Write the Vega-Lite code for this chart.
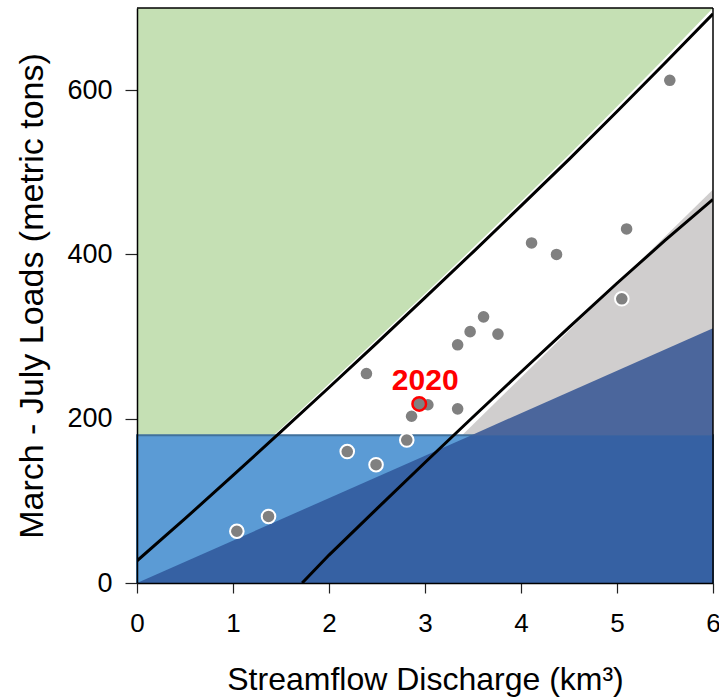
{
  "$schema": "https://vega.github.io/schema/vega-lite/v6.json",
  "width": 576,
  "height": 575,
  "autosize": "none",
  "padding": {"left": 137, "top": 8, "right": 6, "bottom": 116},
  "background": "white",
  "config": {"view": {"stroke": null}, "font": "Liberation Sans"},
  "datasets": {
    "green": [
      {"x": 0, "y": 30}, {"x": 0.5, "y": 82}, {"x": 1, "y": 135}, {"x": 1.5, "y": 188},
      {"x": 2, "y": 242.5}, {"x": 2.5, "y": 297}, {"x": 3, "y": 352}, {"x": 3.5, "y": 408},
      {"x": 4, "y": 464.5}, {"x": 4.5, "y": 521.5}, {"x": 5, "y": 580}, {"x": 5.5, "y": 639.5}, {"x": 6, "y": 700}
    ],
    "gray": [{"x": 3.2, "y": 158.7}, {"x": 6, "y": 479}],
    "rect": [{"x": 0, "x2": 6, "y": 0, "y2": 180}],
    "triLow": [{"x": 0, "y": 0}, {"x": 3.484, "y": 180}, {"x": 6, "y": 180}],
    "triHigh": [{"x": 3.484, "y": 180}, {"x": 6, "y": 310}],
    "upper": [
      {"x": 0, "y": 27}, {"x": 0.5, "y": 78.3}, {"x": 1, "y": 131}, {"x": 1.5, "y": 184.2},
      {"x": 2, "y": 238}, {"x": 2.5, "y": 292.4}, {"x": 3, "y": 347.3}, {"x": 3.5, "y": 402.9},
      {"x": 4, "y": 459.1}, {"x": 4.5, "y": 515.8}, {"x": 5, "y": 574}, {"x": 5.5, "y": 633}, {"x": 6, "y": 693}
    ],
    "lower": [
      {"x": 1.72, "y": 0}, {"x": 2, "y": 34}, {"x": 2.5, "y": 90.6}, {"x": 3, "y": 146.7},
      {"x": 3.5, "y": 202.1}, {"x": 4, "y": 256.9}, {"x": 4.5, "y": 311.2}, {"x": 5, "y": 364.9},
      {"x": 5.5, "y": 417}, {"x": 6, "y": 467}
    ],
    "frame": [{"x": 6, "x2": 6, "y": 0, "y2": 700}, {"x": 0, "x2": 6, "y": 700, "y2": 700}],
    "points": [
      {"x": 1.04, "y": 63, "year": null}, {"x": 1.37, "y": 81, "year": null},
      {"x": 2.19, "y": 160, "year": null}, {"x": 2.49, "y": 144, "year": null},
      {"x": 2.81, "y": 174, "year": null}, {"x": 2.86, "y": 203, "year": null},
      {"x": 3.03, "y": 217, "year": null}, {"x": 2.39, "y": 255, "year": null},
      {"x": 3.34, "y": 212, "year": null}, {"x": 3.34, "y": 290, "year": null},
      {"x": 3.47, "y": 306, "year": null}, {"x": 3.61, "y": 324, "year": null},
      {"x": 3.76, "y": 303, "year": null}, {"x": 4.11, "y": 414, "year": null},
      {"x": 4.37, "y": 400, "year": null}, {"x": 5.05, "y": 346, "year": null},
      {"x": 5.1, "y": 431, "year": null}, {"x": 5.55, "y": 612, "year": null},
      {"x": 2.94, "y": 218, "year": 2020}
    ]
  },
  "encoding": {
    "x": {
      "field": "x", "type": "quantitative",
      "scale": {"domain": [0, 6], "nice": false, "zero": false},
      "axis": {
        "values": [0, 1, 2, 3, 4, 5, 6], "grid": false, "zindex": 1,
        "domainColor": "black", "domainWidth": 1.5, "tickColor": "#222", "tickWidth": 1.2, "tickSize": 10,
        "labelFontSize": 26, "labelColor": "black", "labelPadding": 17, "labelFlush": false,
        "title": "Streamflow Discharge (km³)", "titleFontSize": 32, "titleFontWeight": "normal",
        "titleColor": "black", "titlePadding": 28
      }
    },
    "y": {
      "field": "y", "type": "quantitative",
      "scale": {"domain": [0, 700], "nice": false},
      "axis": {
        "values": [0, 200, 400, 600], "grid": false, "zindex": 1,
        "domainColor": "black", "domainWidth": 1.5, "tickColor": "#222", "tickWidth": 1.2, "tickSize": 12,
        "labelFontSize": 27, "labelColor": "black", "labelPadding": 13,
        "title": "March - July Loads (metric tons)", "titleFontSize": 34, "titleFontWeight": "normal",
        "titleColor": "black", "titlePadding": 17
      }
    }
  },
  "layer": [
    {"data": {"name": "green"}, "mark": {"type": "area", "orient": "vertical", "color": "#c5e0b4", "clip": true},
     "encoding": {"y2": {"datum": 700}}},
    {"data": {"name": "gray"}, "mark": {"type": "area", "orient": "vertical", "color": "#d0cece", "clip": true},
     "encoding": {"y2": {"datum": 0}}},
    {"data": {"name": "rect"}, "mark": {"type": "rect", "color": "#5b9bd5", "stroke": "#41719c", "strokeWidth": 2},
     "encoding": {"x2": {"field": "x2"}, "y2": {"field": "y2"}}},
    {"data": {"name": "triLow"}, "mark": {"type": "area", "orient": "vertical", "color": "#3661a3"},
     "encoding": {"y2": {"datum": 0}}},
    {"data": {"name": "triHigh"}, "mark": {"type": "area", "orient": "vertical", "color": "#4b669c"},
     "encoding": {"y2": {"datum": 180}}},
    {"data": {"name": "upper"}, "mark": {"type": "line", "color": "black", "strokeWidth": 3, "clip": true},
     "encoding": {}},
    {"data": {"name": "lower"}, "mark": {"type": "line", "color": "black", "strokeWidth": 3, "clip": true},
     "encoding": {}},
    {"data": {"name": "frame"}, "mark": {"type": "rule", "color": "black", "strokeWidth": 1.5},
     "encoding": {"x2": {"field": "x2"}, "y2": {"field": "y2"}}},
    {"data": {"name": "points"}, "transform": [{"filter": "datum.year !== 2020"}],
     "mark": {"type": "circle", "color": "#808080", "opacity": 1, "size": 185, "stroke": "white", "strokeWidth": 2}},
    {"data": {"name": "points"}, "transform": [{"filter": "datum.year === 2020"}],
     "mark": {"type": "circle", "color": "#808080", "opacity": 1, "size": 185, "stroke": "red", "strokeWidth": 2.5}},
    {"data": {"name": "points"}, "transform": [{"filter": "datum.year === 2020"}],
     "mark": {"type": "text", "color": "red", "fontSize": 30, "fontWeight": "bold", "dx": 6, "dy": -23, "baseline": "middle", "align": "center"},
     "encoding": {"text": {"field": "year", "type": "nominal"}}}
  ]
}
